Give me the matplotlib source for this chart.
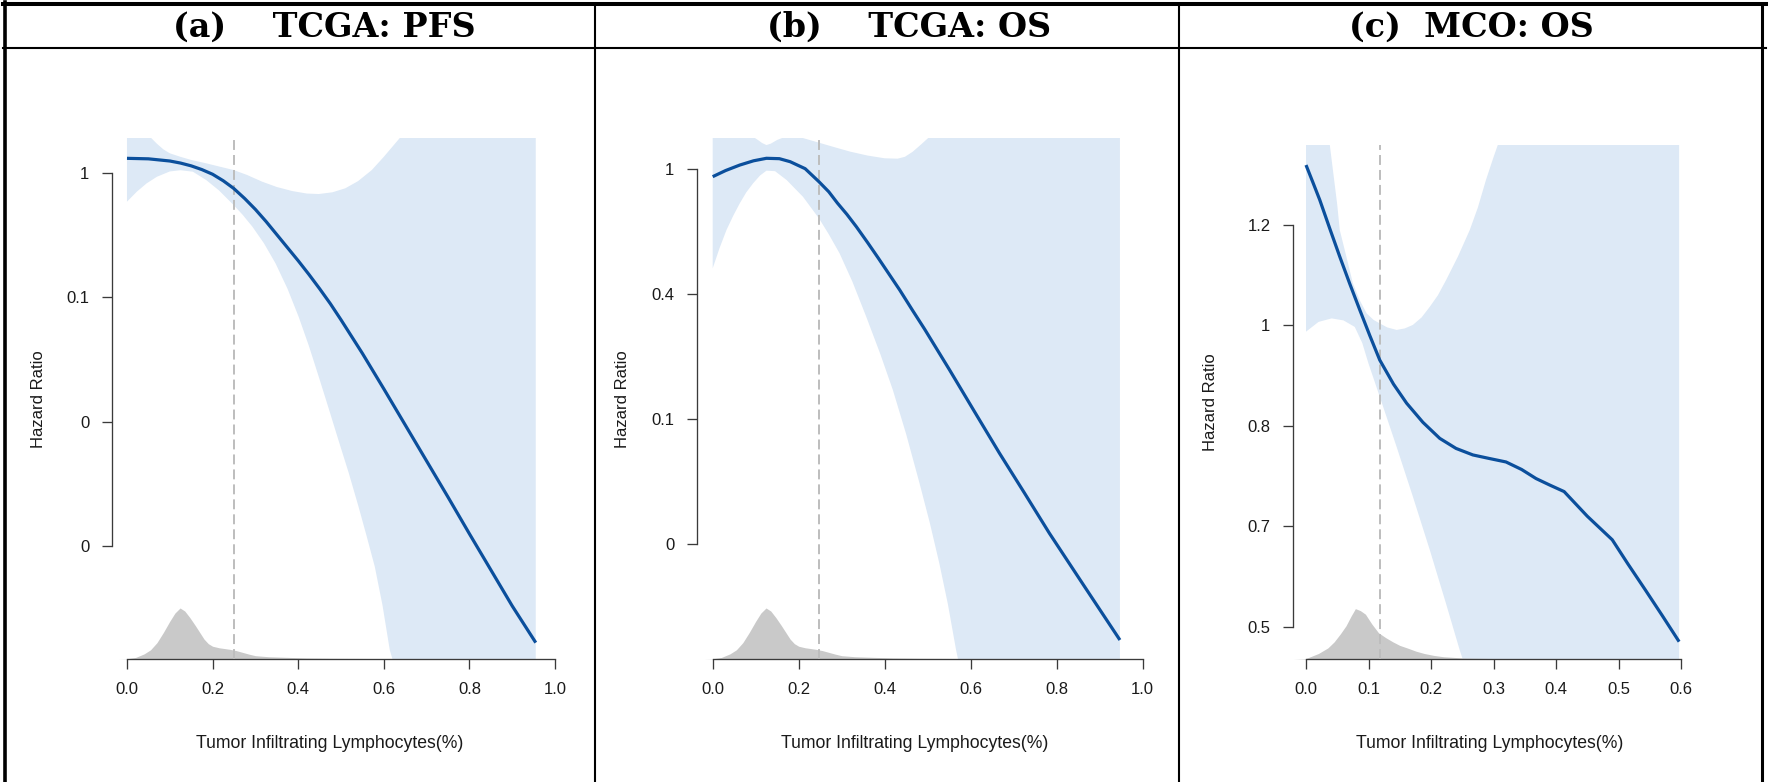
import numpy as np
import matplotlib
matplotlib.use("Agg")
import matplotlib.pyplot as plt
from matplotlib.lines import Line2D

plt.rcParams['font.family'] = ['Liberation Sans', 'DejaVu Sans']

# ---- datos (log hazard ratio) ----
titles = ['(a)    TCGA: PFS', '(b)    TCGA: OS', '(c)  MCO: OS']
xlabel = 'Tumor Infiltrating Lymphocytes(%)'
ylabel = 'Hazard Ratio'

# (a) TCGA PFS
pfs_x = [0.0, 0.05, 0.1, 0.125, 0.15, 0.175, 0.2, 0.225, 0.249, 0.275, 0.3, 0.325, 0.35, 0.375, 0.4,
         0.425, 0.45, 0.475, 0.5, 0.55, 0.6, 0.65, 0.7, 0.75, 0.8, 0.85, 0.9, 0.955]
pfs_lhr = [0.236, 0.228, 0.193, 0.16, 0.115, 0.055, -0.02, -0.125, -0.246, -0.41, -0.585, -0.78, -0.99,
           -1.2, -1.41, -1.63, -1.86, -2.1, -2.36, -2.9, -3.47, -4.05, -4.63, -5.21, -5.8, -6.38,
           -6.96, -7.55]
pfs_up_x = [0.0, 0.04, 0.057, 0.07, 0.085, 0.1, 0.125, 0.15, 0.185, 0.215, 0.249, 0.28, 0.316, 0.35,
            0.386, 0.42, 0.448, 0.48, 0.51, 0.54, 0.572, 0.6, 0.637, 0.7, 0.8, 0.955]
pfs_up = [0.9, 0.62, 0.56, 0.47, 0.38, 0.317, 0.26, 0.21, 0.156, 0.105, 0.048, -0.03, -0.14, -0.225,
          -0.29, -0.33, -0.338, -0.31, -0.246, -0.13, 0.048, 0.26, 0.56, 1.3, 2.4, 4.1]
pfs_lo_x = [0.0, 0.023, 0.046, 0.07, 0.1, 0.125, 0.154, 0.185, 0.215, 0.249, 0.27, 0.293, 0.32, 0.347,
            0.375, 0.401, 0.425, 0.448, 0.471, 0.494, 0.518, 0.541, 0.56, 0.579, 0.597, 0.614, 0.65,
            0.8, 0.955]
pfs_lo = [-0.461, -0.3, -0.166, -0.06, 0.025, 0.045, 0.021, -0.113, -0.28, -0.514, -0.67, -0.863,
          -1.13, -1.452, -1.86, -2.31, -2.78, -3.275, -3.78, -4.293, -4.82, -5.365, -5.84, -6.33,
          -6.95, -7.67, -8.5, -11.0, -13.5]
pfs_cut = 0.249
pfs_yticks = [0, -2, -4, -6]
pfs_ylabels = ['1', '0.1', '0', '0']

# (b) TCGA OS
os_x = [0.0, 0.03, 0.063, 0.095, 0.125, 0.155, 0.18, 0.215, 0.247, 0.27, 0.29, 0.312, 0.334, 0.36,
        0.385, 0.41, 0.435, 0.465, 0.493, 0.551, 0.609, 0.667, 0.725, 0.783, 0.865, 0.947]
os_lhr = [-0.059, -0.01, 0.034, 0.068, 0.088, 0.085, 0.061, 0.005, -0.099, -0.18, -0.27, -0.36,
          -0.459, -0.585, -0.71, -0.838, -0.966, -1.13, -1.28, -1.606, -1.94, -2.272, -2.59, -2.912,
          -3.34, -3.766]
os_up_x = [0.0, 0.094, 0.105, 0.115, 0.125, 0.135, 0.15, 0.165, 0.2, 0.225, 0.247, 0.285, 0.32, 0.36,
           0.4, 0.43, 0.447, 0.465, 0.485, 0.501, 0.55, 0.7, 0.947]
os_up = [0.4, 0.26, 0.235, 0.21, 0.194, 0.205, 0.235, 0.255, 0.26, 0.235, 0.213, 0.175, 0.141, 0.11,
         0.088, 0.085, 0.1, 0.14, 0.2, 0.25, 0.5, 1.1, 2.0]
os_lo_x = [0.0, 0.016, 0.032, 0.048, 0.063, 0.078, 0.094, 0.11, 0.125, 0.145, 0.172, 0.21, 0.247,
           0.27, 0.295, 0.325, 0.357, 0.39, 0.419, 0.45, 0.481, 0.505, 0.527, 0.547, 0.566, 0.6, 0.947]
os_lo = [-0.792, -0.63, -0.486, -0.37, -0.272, -0.185, -0.112, -0.05, -0.011, -0.015, -0.086, -0.22,
         -0.392, -0.52, -0.672, -0.9, -1.179, -1.48, -1.766, -2.12, -2.512, -2.83, -3.152, -3.48,
         -3.846, -4.4, -7.0]
os_cut = 0.247
os_yticks = [0, -1, -2, -3]
os_ylabels = ['1', '0.4', '0.1', '0']

# (c) MCO OS
mco_x = [0.0, 0.011, 0.022, 0.038, 0.054, 0.07, 0.086, 0.102, 0.118, 0.14, 0.161, 0.187, 0.214, 0.24,
         0.267, 0.293, 0.32, 0.345, 0.368, 0.39, 0.413, 0.45, 0.49, 0.515, 0.543, 0.57, 0.597]
mco_lhr = [0.3195, 0.285, 0.25, 0.193, 0.137, 0.083, 0.031, -0.02, -0.069, -0.117, -0.155, -0.193,
           -0.225, -0.245, -0.258, -0.265, -0.272, -0.287, -0.305, -0.318, -0.331, -0.38, -0.427,
           -0.475, -0.527, -0.578, -0.63]
mco_up_x = [0.0, 0.038, 0.044, 0.05, 0.054, 0.062, 0.075, 0.086, 0.097, 0.108, 0.118, 0.13, 0.145,
            0.158, 0.171, 0.185, 0.198, 0.211, 0.224, 0.243, 0.262, 0.275, 0.288, 0.3, 0.307, 0.35,
            0.45, 0.597]
mco_up = [0.45, 0.36, 0.3, 0.24, 0.19, 0.15, 0.084, 0.05, 0.024, 0.011, 0.004, -0.004, -0.009,
          -0.006, 0.001, 0.016, 0.037, 0.06, 0.09, 0.137, 0.19, 0.235, 0.29, 0.335, 0.36, 0.5, 0.8, 1.2]
mco_lo_x = [0.0, 0.02, 0.041, 0.06, 0.078, 0.09, 0.1, 0.118, 0.145, 0.171, 0.198, 0.224, 0.246, 0.3,
            0.597]
mco_lo = [-0.0125, 0.007, 0.014, 0.01, -0.003, -0.035, -0.076, -0.142, -0.242, -0.341, -0.447,
          -0.554, -0.647, -0.85, -1.8]
mco_cut = 0.118
mco_yticks = [0.2, 0, -0.2, -0.4, -0.6]
mco_ylabels = ['1.2', '1', '0.8', '0.7', '0.5']

# densidad relativa de TIL (gris)
tcga_den_x = [-0.02, 0.0, 0.02, 0.04, 0.055, 0.07, 0.085, 0.1, 0.112, 0.124, 0.135, 0.147, 0.16, 0.17,
              0.18, 0.19, 0.2, 0.215, 0.24, 0.255, 0.27, 0.285, 0.3, 0.33, 0.371, 0.42, 0.48, 0.6,
              0.7, 0.85, 1.0]
tcga_den = [0.0, 0.005, 0.03, 0.1, 0.18, 0.32, 0.52, 0.74, 0.9, 1.0, 0.94, 0.81, 0.65, 0.52, 0.39,
            0.3, 0.25, 0.22, 0.19, 0.165, 0.13, 0.095, 0.065, 0.045, 0.033, 0.02, 0.013, 0.008,
            0.006, 0.005, 0.004]
mco_den_x = [-0.02, 0.0, 0.02, 0.035, 0.045, 0.055, 0.064, 0.072, 0.079, 0.087, 0.095, 0.105, 0.116,
             0.128, 0.139, 0.15, 0.164, 0.176, 0.189, 0.205, 0.22, 0.251, 0.314, 0.45, 0.6]
mco_den = [0.0, 0.01, 0.11, 0.22, 0.34, 0.5, 0.66, 0.85, 1.0, 0.96, 0.89, 0.7, 0.52, 0.42, 0.34,
           0.27, 0.21, 0.155, 0.11, 0.07, 0.045, 0.02, 0.006, 0.003, 0.002]

xt_tcga = [0.0, 0.2, 0.4, 0.6, 0.8, 1.0]
xt_mco = [0.0, 0.1, 0.2, 0.3, 0.4, 0.5, 0.6]

# ---- estilo ----
W, H = 1769, 782
BLUE = '#0b4f9c'
BAND = '#dde9f6'
GREY = '#c9c9c9'
DASH = '#bdbdbd'
AXC = '#3a3a3a'
TXT = '#1a1a1a'

fig = plt.figure(figsize=(W / 100, H / 100), dpi=100)


def px_rect(left, top, right, bottom):
    return [left / W, 1 - bottom / H, (right - left) / W, (bottom - top) / H]


def panel(box, xlim, ylim, x, lhr, up_x, up, lo_x, lo, cut, den_x, den,
          yticks, ylabels, xticks, ylab_px, xlab_px):
    left, top, right, bottom = box
    ax = fig.add_axes(px_rect(left, top, right, bottom))
    ax.set_xlim(*xlim)
    ax.set_ylim(*ylim)

    # banda de confianza
    ax.fill(np.r_[up_x, lo_x[::-1]], np.r_[up, lo[::-1]], color=BAND, lw=0, zorder=1)
    # densidad reescalada al fondo
    den = np.asarray(den)
    scale = 0.098 * (ylim[1] - ylim[0]) / den.max()
    ax.fill_between(den_x, ylim[0], ylim[0] + den * scale, color=GREY, lw=0, zorder=2)
    # punto de corte
    ax.axvline(cut, color=DASH, lw=1.4, dashes=(5.1, 2.6), zorder=3)
    ax.plot(x, lhr, color=BLUE, lw=2.3, zorder=5, solid_capstyle='butt', solid_joinstyle='round')

    for s in ['top', 'right']:
        ax.spines[s].set_visible(False)
    ax.spines['left'].set_bounds(min(yticks), max(yticks))
    ax.spines['bottom'].set_bounds(xticks[0], xticks[-1])
    for s in ['left', 'bottom']:
        ax.spines[s].set_color(AXC)
        ax.spines[s].set_linewidth(0.95)
    ax.set_yticks(yticks)
    ax.set_yticklabels(ylabels)
    ax.set_xticks(xticks)
    ax.set_xticklabels(['%.1f' % v for v in xticks])
    ax.tick_params(axis='both', direction='out', length=7, width=0.95, color=AXC,
                   labelsize=12, labelcolor=TXT)
    ax.tick_params(axis='y', pad=9)
    ax.tick_params(axis='x', pad=9.5)
    ax.patch.set_visible(False)

    ax.set_ylabel(ylabel, fontsize=12, color=TXT)
    ax.yaxis.set_label_coords((ylab_px - left) / (right - left), 0.5)
    ax.yaxis.label.set_va('center')
    ax.set_xlabel(xlabel, fontsize=12.7, color=TXT)
    ax.xaxis.set_label_coords((xlab_px - left) / (right - left), -(748 - bottom) / (bottom - top))
    ax.xaxis.label.set_va('baseline')
    return ax


panel((111.7, 138.3, 570, 659), (-0.0357, 1.035), (-7.813, 0.558),
      pfs_x, pfs_lhr, pfs_up_x, pfs_up, pfs_lo_x, pfs_lo, pfs_cut,
      tcga_den_x, tcga_den, pfs_yticks, pfs_ylabels, xt_tcga, 38, 330)
panel((696.7, 138.3, 1160, 659), (-0.0372, 1.0402), (-3.918, 0.248),
      os_x, os_lhr, os_up_x, os_up, os_lo_x, os_lo, os_cut,
      tcga_den_x, tcga_den, os_yticks, os_ylabels, xt_tcga, 622.5, 915)
panel((1292.7, 145, 1700, 659), (-0.0213, 0.6304), (-0.6645, 0.3594),
      mco_x, mco_lhr, mco_up_x, mco_up, mco_lo_x, mco_lo, mco_cut,
      mco_den_x, mco_den, mco_yticks, mco_ylabels, xt_mco, 1210.5, 1490)

# titulos de la tabla
for t, cx in zip(titles, [324, 909, 1471.7]):
    fig.text(cx / W, 1 - 36.7 / H, t, ha='center', va='baseline',
             fontsize=24, fontweight='bold', family='DejaVu Serif', color='black')


# bordes de la tabla
def hline(y, x0, x1, lw):
    fig.add_artist(Line2D([x0 / W, x1 / W], [1 - y / H, 1 - y / H], color='black', lw=lw))


def vline(x, y0, y1, lw):
    fig.add_artist(Line2D([x / W, x / W], [1 - y0 / H, 1 - y1 / H], color='black', lw=lw))


hline(4, 3, 1766, 2.9)
hline(48, 3, 1766, 1.5)
vline(5, 2, 782, 2.6)
vline(594.5, 4, 782, 1.5)
vline(1178.5, 4, 782, 1.5)
vline(1762, 4, 782, 2.2)

fig.savefig('out.png', dpi=100)
